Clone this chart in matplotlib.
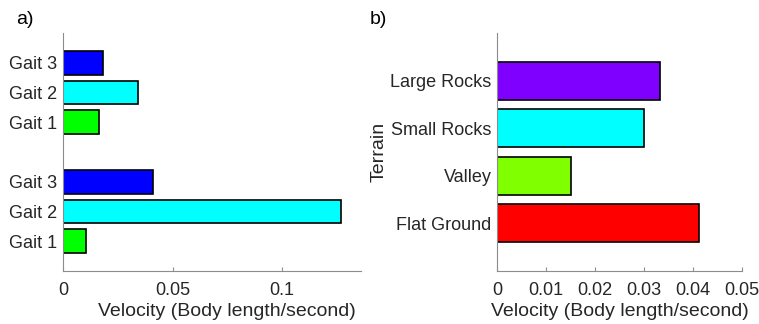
import matplotlib.pyplot as plt

plt.rcParams['font.family'] = ['Liberation Sans', 'DejaVu Sans']

# panel a - two groups of gaits
gait_labels = ["Gait 1", "Gait 2", "Gait 3", "Gait 1", "Gait 2", "Gait 3"]
gait_pos = [1, 2, 3, 5, 6, 7]
gait_vel = [0.0105, 0.127, 0.041, 0.0164, 0.0342, 0.0183]
gait_colors = ["#00ff00", "#00ffff", "#0000ff", "#00ff00", "#00ffff", "#0000ff"]

# panel b - terrains
terrain = ["Flat Ground", "Valley", "Small Rocks", "Large Rocks"]
terrain_vel = [0.0412, 0.0151, 0.0301, 0.0332]
terrain_colors = ["#ff0000", "#80ff00", "#00ffff", "#8000ff"]

axcol = "#8c8c8c"
txtcol = "#262626"

fig = plt.figure(figsize=(7.59, 3.24), dpi=100)
ax1 = fig.add_axes([63/759, 53/324, 298/759, 238/324])
ax2 = fig.add_axes([497/759, 53/324, 245/759, 238/324])

def style(ax):
    ax.spines["top"].set_visible(False)
    ax.spines["right"].set_visible(False)
    ax.spines["left"].set_color(axcol)
    ax.spines["bottom"].set_color(axcol)
    ax.tick_params(axis="x", direction="in", length=3, color=axcol,
                   labelsize=13, labelcolor=txtcol, pad=8)
    ax.tick_params(axis="y", length=0, labelsize=13, labelcolor=txtcol, pad=4)

ax1.barh(gait_pos, gait_vel, height=0.8, color=gait_colors,
         edgecolor="black", linewidth=1.2)
ax1.set_yticks(gait_pos)
ax1.set_yticklabels(gait_labels)
ax1.set_ylim(0, 8)
ax1.set_xlim(0, 0.136)
ax1.set_xticks([0, 0.05, 0.1])
ax1.set_xticklabels(["0", "0.05", "0.1"])
ax1.set_xlabel("Velocity (Body length/second)", fontsize=14, color=txtcol)
ax1.xaxis.set_label_coords(0.55, -0.135)
style(ax1)

ax2.barh(range(1, 5), terrain_vel, height=0.8, color=terrain_colors,
         edgecolor="black", linewidth=1.2)
ax2.set_yticks(range(1, 5))
ax2.set_yticklabels(terrain)
ax2.set_ylim(0, 5)
ax2.set_xlim(0, 0.05)
ax2.set_xticks([0, 0.01, 0.02, 0.03, 0.04, 0.05])
ax2.set_xticklabels(["0", "0.01", "0.02", "0.03", "0.04", "0.05"])
ax2.set_xlabel("Velocity (Body length/second)", fontsize=14, color=txtcol)
ax2.xaxis.set_label_coords(0.5, -0.135)
ax2.set_ylabel("Terrain", fontsize=14, color=txtcol, labelpad=2)
style(ax2)

fig.text(25/759, 1 - 20/324, "a)", fontsize=14, ha="center", va="center")
fig.text(378/759, 1 - 20/324, "b)", fontsize=14, ha="center", va="center")

fig.savefig("out.png", dpi=100)
